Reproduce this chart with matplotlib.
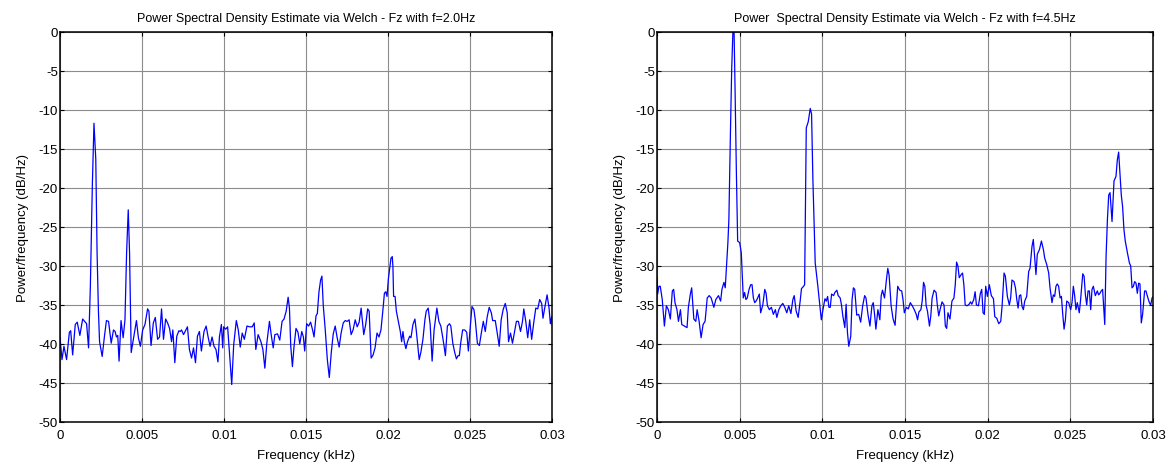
import matplotlib
matplotlib.use("Agg")
import matplotlib.pyplot as plt

plt.rcParams['font.family'] = ['Liberation Sans', 'DejaVu Sans']

# --- Fz with f=2.0Hz (left panel) ---
freq_2hz = [
    0.0, 0.00012, 0.00024, 0.00040, 0.00057, 0.00065, 0.00077, 0.00093, 0.00105, 0.00121,
    0.00138, 0.00150, 0.00162, 0.00174, 0.00185, 0.00197, 0.00207, 0.00218, 0.00226, 0.00234,
    0.00241, 0.00257, 0.00271, 0.00283, 0.00296, 0.00312, 0.00326, 0.00336, 0.00344, 0.00352,
    0.00360, 0.00372, 0.00385, 0.00396, 0.00406, 0.00416, 0.00424, 0.00434, 0.00449, 0.00466,
    0.00478, 0.00490, 0.00504, 0.00518, 0.00534, 0.00542, 0.00555, 0.00569, 0.00581, 0.00595,
    0.00607, 0.00619, 0.00631, 0.00644, 0.00656, 0.00668, 0.00680, 0.00688, 0.00700, 0.00712,
    0.00725, 0.00733, 0.00741, 0.00753, 0.00777, 0.00789, 0.00802, 0.00814, 0.00826, 0.00838,
    0.00850, 0.00862, 0.00878, 0.00891, 0.00903, 0.00915, 0.00927, 0.00939, 0.00951, 0.00963,
    0.00972, 0.00984, 0.00992, 0.00998, 0.01010, 0.01022, 0.01032, 0.01047, 0.01059, 0.01075,
    0.01087, 0.01099, 0.01111, 0.01124, 0.01140, 0.01156, 0.01172, 0.01184, 0.01194, 0.01208,
    0.01225, 0.01237, 0.01249, 0.01261, 0.01277, 0.01289, 0.01300, 0.01310, 0.01326, 0.01340,
    0.01354, 0.01366, 0.01379, 0.01391, 0.01399, 0.01407, 0.01417, 0.01427, 0.01439, 0.01451,
    0.01462, 0.01474, 0.01484, 0.01492, 0.01504, 0.01516, 0.01528, 0.01540, 0.01549, 0.01561,
    0.01569, 0.01579, 0.01589, 0.01597, 0.01605, 0.01617, 0.01630, 0.01642, 0.01654, 0.01666,
    0.01678, 0.01690, 0.01702, 0.01714, 0.01727, 0.01739, 0.01751, 0.01763, 0.01775, 0.01787,
    0.01800, 0.01812, 0.01824, 0.01836, 0.01844, 0.01852, 0.01864, 0.01876, 0.01885, 0.01897,
    0.01909, 0.01921, 0.01933, 0.01945, 0.01957, 0.01970, 0.01978, 0.01986, 0.01994, 0.02002,
    0.02010, 0.02018, 0.02026, 0.02030, 0.02034, 0.02043, 0.02051, 0.02063, 0.02075, 0.02083,
    0.02091, 0.02099, 0.02109, 0.02119, 0.02132, 0.02140, 0.02152, 0.02164, 0.02172, 0.02180,
    0.02190, 0.02200, 0.02213, 0.02225, 0.02233, 0.02245, 0.02257, 0.02269, 0.02281, 0.02298,
    0.02310, 0.02322, 0.02334, 0.02342, 0.02350, 0.02362, 0.02375, 0.02383, 0.02395, 0.02407,
    0.02417, 0.02427, 0.02435, 0.02443, 0.02455, 0.02468, 0.02480, 0.02490, 0.02500, 0.02512,
    0.02524, 0.02532, 0.02545, 0.02557, 0.02569, 0.02581, 0.02593, 0.02605, 0.02617, 0.02630,
    0.02638, 0.02654, 0.02666, 0.02678, 0.02690, 0.02702, 0.02715, 0.02727, 0.02735, 0.02747,
    0.02759, 0.02771, 0.02783, 0.02795, 0.02808, 0.02820, 0.02828, 0.02840, 0.02852, 0.02864,
    0.02876, 0.02889, 0.02901, 0.02913, 0.02925, 0.02937, 0.02945, 0.02957, 0.02970, 0.02982,
    0.02990, 0.02998, 0.03006,
]
psd_2hz = [
    -39.2, -42.0, -40.3, -42.0, -38.5, -38.3, -41.4, -37.5, -37.2, -38.9,
    -36.8, -37.1, -37.4, -40.5, -32.6, -19.7, -11.7, -16.3, -28.3, -35.6,
    -39.7, -41.6, -39.0, -37.0, -37.1, -39.9, -38.2, -38.4, -39.1, -38.9,
    -42.2, -37.0, -39.2, -36.9, -28.3, -22.8, -28.3, -41.1, -39.2, -37.0,
    -39.2, -40.3, -38.2, -37.5, -35.5, -35.8, -40.2, -37.3, -36.6, -39.4,
    -39.1, -35.5, -39.4, -36.8, -37.3, -38.0, -39.7, -38.2, -42.4, -39.0,
    -38.3, -38.4, -38.2, -38.8, -37.8, -40.7, -41.8, -40.5, -42.4, -39.0,
    -38.4, -40.9, -38.4, -37.7, -39.1, -40.3, -39.1, -40.3, -40.7, -42.3,
    -39.1, -37.5, -40.5, -37.8, -38.1, -37.8, -40.7, -45.2, -40.1, -37.0,
    -38.2, -40.4, -38.6, -39.4, -37.7, -37.8, -37.8, -37.3, -40.7, -38.8,
    -39.7, -40.7, -43.1, -39.9, -37.1, -39.0, -40.5, -38.8, -38.7, -39.5,
    -37.1, -36.8, -35.8, -34.0, -35.4, -40.3, -42.9, -40.3, -38.0, -38.5,
    -40.0, -38.4, -39.1, -40.9, -37.4, -37.7, -37.2, -38.2, -39.1, -36.4,
    -36.1, -33.3, -31.8, -31.3, -35.0, -38.1, -42.0, -44.3, -41.1, -38.7,
    -37.7, -39.2, -40.4, -38.6, -37.3, -37.0, -37.1, -36.9, -38.8, -38.2,
    -36.9, -37.8, -37.2, -35.4, -37.1, -38.8, -37.5, -35.5, -35.8, -41.8,
    -41.4, -40.5, -38.6, -39.1, -38.2, -35.4, -33.5, -33.3, -33.9, -31.7,
    -30.4, -29.0, -28.8, -30.1, -33.9, -33.9, -35.8, -37.1, -38.4, -39.7,
    -38.4, -39.7, -40.6, -39.7, -39.0, -39.2, -37.5, -36.8, -38.2, -39.9,
    -42.0, -41.1, -39.4, -36.9, -35.8, -35.4, -37.5, -42.2, -38.2, -35.4,
    -37.1, -37.7, -39.2, -40.3, -41.5, -37.7, -37.4, -37.7, -39.9, -41.1,
    -41.9, -41.5, -41.5, -39.9, -38.2, -38.2, -38.5, -40.9, -38.2, -35.2,
    -35.6, -36.9, -39.9, -40.2, -38.6, -37.1, -38.4, -36.5, -35.3, -36.0,
    -37.0, -37.0, -38.6, -40.3, -36.9, -35.6, -34.8, -36.0, -39.7, -38.6,
    -39.9, -38.5, -37.1, -37.1, -38.4, -37.1, -35.5, -37.1, -39.2, -36.9,
    -39.4, -37.2, -35.4, -35.5, -34.3, -34.8, -36.7, -35.2, -33.7, -35.4,
    -37.4, -36.5, -38.6,
]

# --- Fz with f=4.5Hz (right panel) ---
freq_45hz = [
    0.0, 0.00004, 0.00012, 0.00020, 0.00032, 0.00045, 0.00057, 0.00069, 0.00081, 0.00093,
    0.00101, 0.00109, 0.00121, 0.00130, 0.00142, 0.00150, 0.00166, 0.00182, 0.00190, 0.00202,
    0.00210, 0.00223, 0.00235, 0.00243, 0.00255, 0.00267, 0.00279, 0.00291, 0.00304, 0.00316,
    0.00328, 0.00344, 0.00356, 0.00372, 0.00385, 0.00393, 0.00405, 0.00413, 0.00421, 0.00429,
    0.00435, 0.00444, 0.00452, 0.00460, 0.00466, 0.00472, 0.00480, 0.00488, 0.00500, 0.00510,
    0.00516, 0.00522, 0.00530, 0.00538, 0.00546, 0.00557, 0.00567, 0.00575, 0.00583, 0.00591,
    0.00599, 0.00607, 0.00619, 0.00627, 0.00640, 0.00652, 0.00660, 0.00668, 0.00680, 0.00692,
    0.00704, 0.00716, 0.00725, 0.00737, 0.00749, 0.00761, 0.00773, 0.00785, 0.00797, 0.00810,
    0.00822, 0.00830, 0.00842, 0.00854, 0.00866, 0.00874, 0.00887, 0.00893, 0.00903, 0.00915,
    0.00927, 0.00935, 0.00943, 0.00957, 0.00973, 0.00994, 0.01004, 0.01016, 0.01024, 0.01032,
    0.01040, 0.01048, 0.01056, 0.01068, 0.01076, 0.01088, 0.01096, 0.01108, 0.01116, 0.01124,
    0.01136, 0.01144, 0.01152, 0.01160, 0.01172, 0.01180, 0.01188, 0.01196, 0.01208, 0.01220,
    0.01232, 0.01244, 0.01256, 0.01264, 0.01276, 0.01288, 0.01300, 0.01308, 0.01316, 0.01324,
    0.01336, 0.01348, 0.01356, 0.01364, 0.01376, 0.01388, 0.01396, 0.01404, 0.01416, 0.01428,
    0.01440, 0.01448, 0.01456, 0.01468, 0.01480, 0.01488, 0.01496, 0.01508, 0.01520, 0.01532,
    0.01544, 0.01556, 0.01568, 0.01576, 0.01584, 0.01596, 0.01604, 0.01612, 0.01620, 0.01628,
    0.01636, 0.01648, 0.01656, 0.01664, 0.01676, 0.01688, 0.01696, 0.01704, 0.01712, 0.01724,
    0.01736, 0.01744, 0.01752, 0.01760, 0.01772, 0.01784, 0.01796, 0.01804, 0.01812, 0.01820,
    0.01828, 0.01840, 0.01848, 0.01856, 0.01864, 0.01876, 0.01888, 0.01896, 0.01904, 0.01916,
    0.01924, 0.01932, 0.01944, 0.01956, 0.01964, 0.01972, 0.01980, 0.01988, 0.01998, 0.02010,
    0.02022, 0.02035, 0.02043, 0.02055, 0.02067, 0.02079, 0.02087, 0.02099, 0.02107, 0.02119,
    0.02131, 0.02139, 0.02147, 0.02159, 0.02168, 0.02176, 0.02184, 0.02192, 0.02200, 0.02208,
    0.02216, 0.02224, 0.02236, 0.02248, 0.02256, 0.02268, 0.02276, 0.02284, 0.02292, 0.02300,
    0.02313, 0.02325, 0.02337, 0.02345, 0.02357, 0.02369, 0.02377, 0.02389, 0.02397, 0.02405,
    0.02413, 0.02421, 0.02429, 0.02438, 0.02446, 0.02454, 0.02462, 0.02470, 0.02478, 0.02490,
    0.02502, 0.02510, 0.02518, 0.02526, 0.02534, 0.02542, 0.02554, 0.02562, 0.02575, 0.02583,
    0.02591, 0.02599, 0.02607, 0.02615, 0.02623, 0.02631, 0.02639, 0.02651, 0.02663, 0.02671,
    0.02679, 0.02687, 0.02695, 0.02708, 0.02716, 0.02724, 0.02732, 0.02740, 0.02752, 0.02764,
    0.02776, 0.02784, 0.02792, 0.02800, 0.02808, 0.02816, 0.02824, 0.02832, 0.02845, 0.02857,
    0.02865, 0.02873, 0.02881, 0.02889, 0.02897, 0.02905, 0.02913, 0.02921, 0.02929, 0.02937,
    0.02949, 0.02957, 0.02969, 0.02978, 0.02986, 0.02994, 0.03002,
]
psd_45hz = [
    -31.5, -33.6, -32.6, -32.6, -34.3, -37.7, -35.1, -35.6, -36.8, -33.2,
    -33.0, -34.7, -35.6, -37.1, -35.6, -37.5, -37.7, -37.9, -35.3, -33.6,
    -32.8, -36.8, -37.1, -35.6, -37.1, -39.2, -37.5, -37.1, -34.1, -33.8,
    -34.1, -35.3, -34.3, -33.8, -34.5, -33.0, -32.1, -32.8, -30.0, -27.0,
    -24.0, -13.3, -4.7, 0.5, 0.5, -6.9, -17.6, -26.8, -27.0, -28.3,
    -31.1, -34.1, -33.4, -34.3, -34.1, -33.0, -32.4, -32.4, -34.1, -34.7,
    -34.5, -34.2, -33.6, -36.0, -35.0, -33.0, -33.5, -35.1, -35.6, -35.3,
    -36.2, -35.6, -36.6, -35.6, -35.1, -34.8, -35.3, -36.0, -35.1, -36.1,
    -34.3, -33.8, -35.8, -36.6, -34.5, -32.9, -32.6, -32.4, -12.3, -11.5,
    -9.8, -10.5, -18.9, -29.6, -32.6, -36.9, -35.6, -34.2, -34.5, -33.9,
    -35.3, -35.3, -33.6, -33.8, -33.4, -33.1, -33.8, -34.1, -35.0, -36.4,
    -37.9, -34.9, -38.5, -40.3, -39.0, -34.3, -32.8, -33.0, -36.3, -36.2,
    -37.2, -35.1, -33.8, -34.1, -36.2, -37.7, -35.1, -34.7, -36.2, -38.1,
    -35.6, -36.9, -33.8, -33.1, -34.1, -31.7, -30.3, -31.2, -35.1, -36.8,
    -37.6, -35.0, -32.6, -33.1, -33.2, -34.3, -36.0, -35.3, -35.5, -34.7,
    -35.1, -35.6, -36.2, -36.9, -35.9, -35.6, -34.5, -32.1, -32.6, -35.1,
    -35.8, -37.7, -36.4, -34.1, -33.1, -33.4, -35.1, -36.4, -35.6, -34.6,
    -35.0, -37.7, -38.0, -36.0, -36.8, -34.5, -34.1, -32.4, -29.5, -30.0,
    -31.5, -31.1, -30.9, -32.4, -35.0, -35.1, -34.9, -34.6, -34.9, -34.3,
    -33.3, -35.0, -35.1, -33.5, -33.0, -36.0, -36.2, -32.6, -33.9, -32.4,
    -33.8, -34.2, -36.5, -36.7, -37.4, -37.1, -35.2, -30.9, -31.3, -33.9,
    -35.0, -34.1, -31.8, -32.0, -32.8, -34.3, -35.4, -33.8, -33.7, -35.2,
    -35.6, -34.5, -33.9, -30.7, -30.3, -27.5, -26.6, -28.8, -31.1, -28.5,
    -27.9, -26.8, -27.9, -29.0, -29.8, -30.9, -32.8, -34.7, -33.7, -33.9,
    -32.6, -32.3, -32.6, -34.1, -33.9, -36.2, -38.1, -36.9, -34.5, -34.7,
    -35.6, -34.7, -32.6, -33.8, -35.6, -34.7, -36.0, -34.3, -31.0, -31.3,
    -33.7, -35.0, -33.2, -33.2, -35.6, -33.0, -32.6, -33.8, -33.2, -33.7,
    -33.5, -33.2, -33.0, -37.5, -28.8, -24.1, -20.9, -20.6, -24.3, -19.1,
    -18.5, -16.4, -15.4, -18.1, -20.9, -22.4, -25.3, -26.8, -28.3, -29.6,
    -30.0, -32.8, -32.6, -32.0, -32.2, -33.5, -32.2, -32.3, -37.3, -36.2,
    -33.2, -33.2, -34.1, -34.7, -35.0, -34.1, -33.9,
]

titles = [
    "Power Spectral Density Estimate via Welch - Fz with f=2.0Hz",
    "Power  Spectral Density Estimate via Welch - Fz with f=4.5Hz",
]
x_ticks = [0, 0.005, 0.01, 0.015, 0.02, 0.025, 0.03]
x_tick_labels = ["0", "0.005", "0.01", "0.015", "0.02", "0.025", "0.03"]
y_ticks = list(range(-50, 1, 5))

fig = plt.figure(figsize=(11.7, 4.64), dpi=100)
ax_left = fig.add_axes([0.0513, 0.0884, 0.4205, 0.8405])
ax_right = fig.add_axes([0.5615, 0.0884, 0.4240, 0.8405])

panels = [(ax_left, freq_2hz, psd_2hz), (ax_right, freq_45hz, psd_45hz)]
for (ax, f, p), title in zip(panels, titles):
    ax.plot(f, p, color='#0000ff', lw=0.9)
    ax.set_xlim(0, 0.03)
    ax.set_ylim(-50, 0)
    ax.set_xticks(x_ticks)
    ax.set_xticklabels(x_tick_labels)
    ax.set_yticks(y_ticks)
    ax.set_yticklabels([str(v) for v in y_ticks])
    ax.grid(True, color='0.55', lw=0.8)
    ax.set_axisbelow(True)
    ax.tick_params(direction='in', top=True, right=True, length=3,
                   labelsize=9.5, width=0.8)
    ax.tick_params(axis='x', pad=5)
    ax.tick_params(axis='y', pad=1.5)
    for sp in ax.spines.values():
        sp.set_linewidth(1.1)
    ax.set_title(title, fontsize=9, pad=8)
    ax.set_xlabel("Frequency (kHz)", fontsize=9.5, labelpad=6)
    ax.set_ylabel("Power/frequency (dB/Hz)", fontsize=9.5, labelpad=7)

fig.savefig("out.png", dpi=100)
